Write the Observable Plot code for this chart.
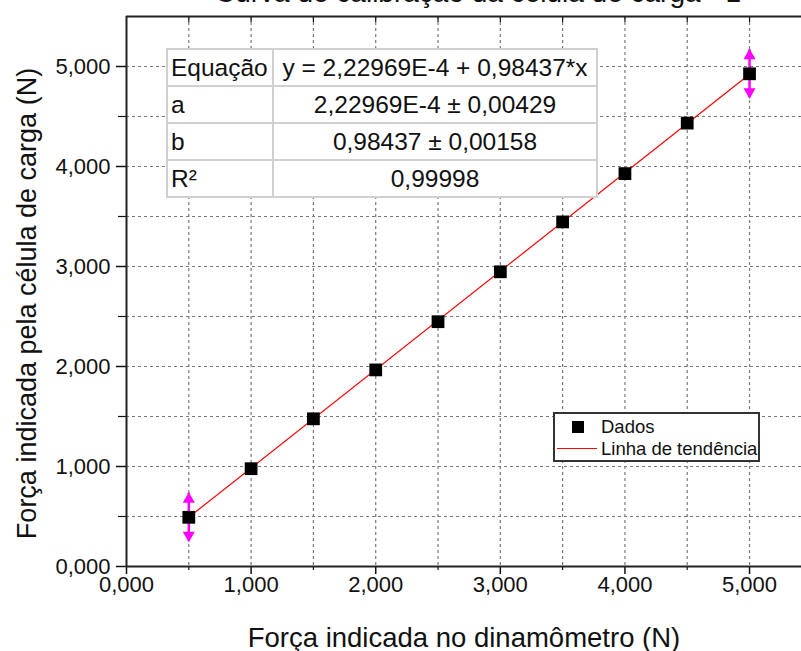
<!DOCTYPE html>
<html>
<head>
<meta charset="utf-8">
<script src="https://cdn.jsdelivr.net/npm/d3@7"></script>
<script src="https://cdn.jsdelivr.net/npm/@observablehq/plot@0.6"></script>
<style>
  html, body { margin: 0; padding: 0; background: #fff; overflow: hidden; }
  body { font-family: "Liberation Sans", Arial, sans-serif; color: #000; }
  #wrap { position: relative; width: 801px; height: 651px; }
  #title { position: absolute; left: 0; width: 956px; top: -21px; text-align: center; font-size: 28px; line-height: 28px; color: #111; white-space: nowrap; }
  #tbl { position: absolute; left: 166px; top: 48px; border-collapse: collapse; background: #fff; font-size: 24.5px; color: #111; border: 2px solid #333; }
  #tbl td { border: 2px solid #d0d0d0; height: 35px; padding: 0 3px; line-height: 30px; white-space: nowrap; }
  #tbl td.k { width: 98px; text-align: left; }
  #tbl td.v { width: 316px; text-align: center; }
  #legend { position: absolute; left: 553px; top: 412px; width: 203px; height: 46px; border: 2px solid #333; background: #fff; font-size: 18.5px; color: #111; }
  .lrow { position: absolute; left: 0; height: 22px; line-height: 22px; }
  .lsym { position: absolute; }
  .ltxt { position: absolute; left: 46px; white-space: nowrap; }
</style>
</head>
<body>
<div id="wrap">
  <div id="chart"></div>
  <div id="title"></div>
  <table id="tbl"></table>
  <div id="legend"></div>
</div>
<script>
// ---- data ----
const titleText = "Curva de calibração da célula de carga - 1";
const xLabel = "Força indicada no dinamômetro (N)";
const yLabel = "Força indicada pela célula de carga (N)";

const forceDyn = [0.5, 1.0, 1.5, 2.0, 2.5, 3.0, 3.5, 4.0, 4.5, 5.0];
const forceCell = [0.492, 0.978, 1.477, 1.966, 2.448, 2.947, 3.446, 3.929, 4.434, 4.927];

const errX = [0.5, 5.0];
const errY = [0.492, 4.927];
const errSize = [0.24, 0.24];

const fitA = 2.22969e-4;
const fitB = 0.98437;
const trendX = [0.5, 5.0];

const majorTicks = [0, 1, 2, 3, 4, 5];
const minorTicks = [0.5, 1.5, 2.5, 3.5, 4.5];
const gridTicks = [0.5, 1, 1.5, 2, 2.5, 3, 3.5, 4, 4.5, 5];

const tableKeys = ["Equação", "a", "b", "R²"];
const tableVals = ["y = 2,22969E-4 + 0,98437*x", "2,22969E-4 ± 0,00429", "0,98437 ± 0,00158", "0,99998"];

const legendLabels = ["Dados", "Linha de tendência"];

// ---- build ----
const fmt = d => d.toFixed(3).replace(".", ",");
const points = forceDyn.map((x, i) => ({x, y: forceCell[i]}));
const errs = errX.map((x, i) => ({x, y: errY[i], lo: errY[i] - errSize[i], hi: errY[i] + errSize[i]}));
const trend = trendX.map(x => ({x, y: fitA + fitB * x}));

const font = "Liberation Sans, Arial, sans-serif";
const plot = Plot.plot({
  width: 801,
  height: 651,
  marginLeft: 126,
  marginRight: 0,
  marginTop: 16,
  marginBottom: 85,
  x: {domain: [0, 5.417]},
  y: {domain: [0, 5.5]},
  style: {fontFamily: font, color: "#111", background: "#fff"},
  marks: [
    Plot.gridX(gridTicks, {stroke: "#7a7a7a", strokeOpacity: 1, strokeWidth: 1.2, strokeDasharray: "3,3"}),
    Plot.gridY(gridTicks, {stroke: "#7a7a7a", strokeOpacity: 1, strokeWidth: 1.2, strokeDasharray: "3,3"}),
    Plot.axisX(majorTicks, {tickSize: 8, tickPadding: 2, tickFormat: fmt, fontSize: 22, label: null, strokeWidth: 1.5}),
    Plot.axisX(minorTicks, {tickSize: 4, tickFormat: () => "", label: null, strokeWidth: 1.2}),
    Plot.axisX(gridTicks, {anchor: "top", tickSize: -5, tickFormat: () => "", label: null, strokeWidth: 1.2}),
    Plot.axisY(majorTicks, {tickSize: 10, tickPadding: 6, tickFormat: fmt, fontSize: 22, label: null, strokeWidth: 1.5}),
    Plot.axisY(minorTicks, {tickSize: 8, tickFormat: () => "", label: null, strokeWidth: 1.2}),
    Plot.ruleY([0], {stroke: "#222", strokeWidth: 2}),
    Plot.ruleY([5.5], {stroke: "#222", strokeWidth: 2}),
    Plot.ruleX([0], {stroke: "#222", strokeWidth: 2}),
    Plot.line(trend, {x: "x", y: "y", stroke: "#ff0000", strokeWidth: 1.2}),
    Plot.ruleX(errs, {x: "x", y1: "lo", y2: "hi", stroke: "#ff00ff", strokeWidth: 2.5}),
    Plot.dot(errs, {x: "x", y: "hi", symbol: "triangle", r: 4.5, fill: "#ff00ff", stroke: "none", dy: 6}),
    Plot.dot(errs, {x: "x", y: "lo", symbol: "triangle", r: 4.5, fill: "#ff00ff", stroke: "none", rotate: 180, dy: -6}),
    Plot.dot(points, {x: "x", y: "y", symbol: "square", r: 7.2, fill: "#000", stroke: "none"}),
    Plot.text([xLabel], {frameAnchor: "bottom", dy: 80, fontSize: 27.5, fill: "#111"}),
    Plot.text([yLabel], {frameAnchor: "left", textAnchor: "middle", dx: -99, dy: 12, rotate: -90, fontSize: 27, fill: "#111"})
  ]
});
document.getElementById("chart").appendChild(plot);

document.getElementById("title").textContent = titleText;

const tbl = document.getElementById("tbl");
tableKeys.forEach((k, i) => {
  const tr = document.createElement("tr");
  const a = document.createElement("td"); a.className = "k"; a.textContent = k;
  const b = document.createElement("td"); b.className = "v"; b.textContent = tableVals[i];
  tr.appendChild(a); tr.appendChild(b); tbl.appendChild(tr);
});

const leg = document.getElementById("legend");
legendLabels.forEach((lab, i) => {
  const row = document.createElement("div");
  row.className = "lrow";
  row.style.top = (2 + i * 22) + "px";
  row.style.width = "200px";
  const sym = document.createElement("div");
  sym.className = "lsym";
  if (i === 0) {
    Object.assign(sym.style, {left: "17px", top: "5px", width: "12px", height: "12px", background: "#000"});
  } else {
    Object.assign(sym.style, {left: "2px", top: "10px", width: "40px", height: "0", borderTop: "1.5px solid #ff0000"});
  }
  const t = document.createElement("span");
  t.className = "ltxt"; t.textContent = lab;
  row.appendChild(sym); row.appendChild(t); leg.appendChild(row);
});
</script>
</body>
</html>
